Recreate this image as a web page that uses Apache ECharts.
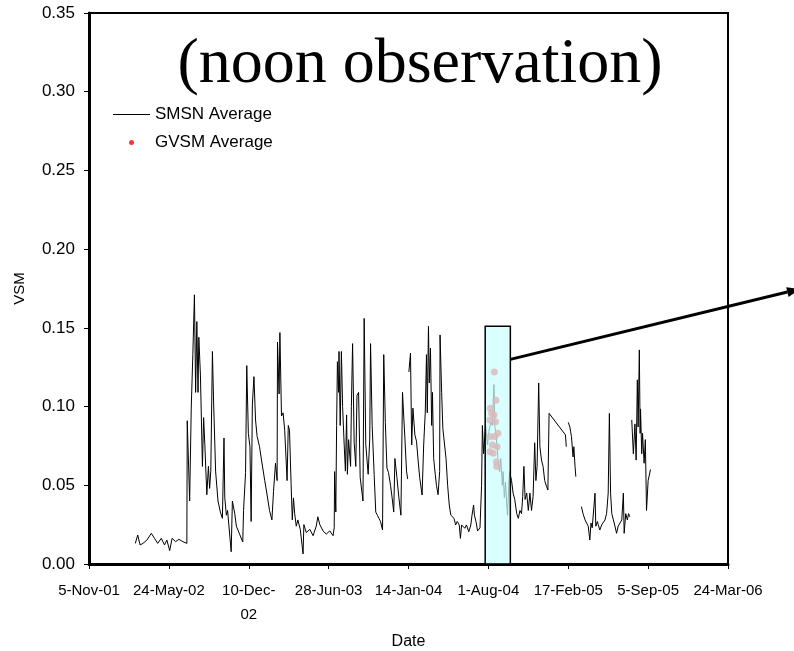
<!DOCTYPE html>
<html>
<head>
<meta charset="utf-8">
<script src="https://cdn.jsdelivr.net/npm/echarts@6/dist/echarts.min.js"></script>
<style>
  html, body { margin: 0; padding: 0; background: #fff; }
  #chart { width: 794px; height: 651px; }
</style>
</head>
<body>
<div id="chart"></div>
<script>
// x values are days since 5-Nov-01 (first tick); null = gap in the record
var smsnDays = [
  116, 122, 128, 135, 145, 156, 164, 172, 181, 189, 195, 202, 208, 217, 225, 235, 245,
  246, 252, 256, 260, 264, 267, 270, 273, 275, 279, 284, 287, 290, 295, 299, 302, 305,
  309, 312, 317, 323, 329, 334, 338, 340, 344, 347, 356, 359, 365, 369, 377, 385, 387,
  392, 395, 399, 403, 406, 409, 413, 417, 421, 427, 432, 440, 444, 452, 458, 462, 467,
  471, 472, 476, 478, 482, 486, 490, 496, 499, 502, 506, 509, 512, 515, 519, 523, 529,
  536, 538, 544, 553, 561, 569, 573, 578, 586, 594, 603, 611, 614,
  615, 618, 620, 622, 625, 626, 629, 632, 635, 639, 642, 645, 647, 650, 655, 657, 660,
  664, 668, 671, 675, 679, 682, 686, 689, 693, 699, 703, 705, 709, 714, 718, 722, 726,
  730, 735, 738, 742, 746, 750, 755, 759, 763, 766, 771, 776, 781, 785, 788, 791, 795,
  798, 800,
  801, 805, 808, 811, 816, 820, 824, 828, 834, 838, 842, 845, 847, 850, 852, 855, 858,
  860, 863, 867, 870, 874, 878, 879, 883, 886, 891, 894, 898, 902, 906, 910, 914, 918,
  922, 927, 930, 933, 937, 941, 945, 951, 956, 959, 963, 965, 969, 973, 979, 983, 985,
  988, 993, 998, 1001, 1006, 1010, 1014, 1016, 1020, 1024, 1028, 1031, 1035, 1037, 1040,
  1043, 1046, 1048, 1051, 1053, 1058, 1062, 1066, 1071, 1075, 1079, 1083, 1086, 1089,
  1092, 1096, 1100, 1104, 1108, 1112, 1116, 1119, 1122, 1126, 1129, 1133, 1137, 1141,
  1146, 1149, 1152, 1193, 1195, 1196,
  1200, 1204, 1206, 1208, 1212, 1214, 1217, 1219, 1222,
  1233, 1237, 1242, 1246, 1250, 1254, 1257, 1260, 1263, 1267, 1269, 1273, 1275, 1279,
  1284, 1288, 1292, 1296, 1300, 1303, 1306, 1309, 1313, 1317, 1321, 1325, 1329, 1334,
  1338, 1340, 1344, 1348, 1351, 1354, 1356,
  1359, 1363, 1367, 1370, 1373, 1375, 1378, 1380, 1381, 1384, 1386, 1390, 1393, 1396,
  1400, 1403, 1406
];
var smsnValues = [
  0.0131, 0.0184, 0.0121, 0.0131, 0.0152, 0.0195, 0.0163, 0.0131, 0.0163, 0.0121, 0.0152, 0.0085, 0.0163, 0.0142, 0.0157, 0.0142, 0.0131,
  0.091, 0.040, 0.099, 0.133, 0.171, 0.109, 0.154, 0.109, 0.144, 0.120, 0.062, 0.093, 0.076, 0.044, 0.062, 0.048, 0.059,
  0.135, 0.103, 0.059, 0.040, 0.033, 0.029, 0.080, 0.042, 0.031, 0.034, 0.0078, 0.040, 0.032, 0.024, 0.019, 0.014, 0.034,
  0.058, 0.126, 0.083, 0.0745, 0.027, 0.101, 0.119, 0.0915, 0.081, 0.0745, 0.066, 0.053, 0.047, 0.034, 0.028, 0.046, 0.064,
  0.053, 0.141, 0.108, 0.147, 0.094, 0.096, 0.085, 0.053, 0.088, 0.085, 0.051, 0.028, 0.042, 0.032, 0.024, 0.028, 0.022,
  0.0064, 0.025, 0.020, 0.022, 0.018, 0.024, 0.030, 0.025, 0.021, 0.019, 0.021, 0.018, 0.023,
  0.0587, 0.033, 0.088, 0.1285, 0.109, 0.135, 0.088, 0.135, 0.100, 0.0756, 0.059, 0.0947, 0.057, 0.079, 0.062, 0.100, 0.140,
  0.077, 0.062, 0.107, 0.109, 0.055, 0.054, 0.040, 0.156, 0.076, 0.057, 0.080, 0.140, 0.088, 0.057, 0.033, 0.031, 0.029,
  0.027, 0.0216, 0.133, 0.090, 0.061, 0.058, 0.050, 0.042, 0.033, 0.067, 0.055, 0.042, 0.031, 0.109, 0.094, 0.080, 0.059,
  0.054, null,
  0.122, 0.134, 0.0756, 0.099, 0.082, 0.078, 0.066, 0.055, 0.0438, 0.0756, 0.0965, 0.133, 0.096, 0.151, 0.115, 0.137, 0.088,
  0.109, 0.067, 0.057, 0.050, 0.044, 0.0587, 0.1455, 0.109, 0.086, 0.086, 0.067, 0.050, 0.0375, 0.031, 0.031, 0.029, 0.0248,
  0.027, 0.0248, 0.0163, 0.0248, 0.026, 0.0227, 0.0248, 0.0205, 0.0248, 0.031, 0.0375, 0.031, 0.027, 0.021, 0.023, 0.050, 0.088,
  0.070, 0.088, 0.0756, 0.084, 0.090, 0.088, 0.114, 0.088, 0.080, 0.067, 0.0587, 0.067, 0.050, 0.0587, 0.042,
  0.052, 0.0375, 0.031, 0.050, 0.0587, 0.053, 0.045, 0.041, 0.032, 0.029, 0.034, 0.032, 0.043, 0.062,
  0.041, 0.045, 0.034, 0.045, 0.034, 0.043, 0.077, 0.053, 0.062, 0.115, 0.0745, 0.066, 0.062, 0.053,
  0.049, 0.047, 0.0957, 0.082, 0.0745, null,
  0.090, 0.087, 0.084, 0.081, 0.068, 0.0745, 0.062, 0.0555, null,
  0.0364, 0.032, 0.028, 0.026, 0.024, 0.0152, 0.026, 0.023, 0.024, 0.045, 0.024, 0.027, 0.025, 0.0216,
  0.025, 0.024, 0.028, 0.032, 0.045, 0.0957, 0.045, 0.032, 0.028, 0.024, 0.0195, 0.024, 0.023, 0.028,
  0.045, 0.0195, 0.032, 0.028, 0.032, 0.030, null,
  0.0915, 0.070, 0.089, 0.066, 0.117, 0.087, 0.136, 0.083, 0.0985, 0.070, 0.083, 0.064, 0.079, 0.034,
  0.053, 0.054, 0.060
];

var gvsmDays = [1015, 1019, 1005, 1008, 1014, 1004, 1018, 1005, 1024, 1016, 1010, 1022, 1004, 1012, 1020, 1021];
var gvsmValues = [0.122, 0.104, 0.099, 0.0957, 0.0947, 0.0915, 0.0904, 0.081, 0.083, 0.081, 0.0756, 0.0745, 0.0713, 0.0703, 0.065, 0.062];

var xTickLabels = ['5-Nov-01', '24-May-02', '10-Dec-\n02', '28-Jun-03', '14-Jan-04', '1-Aug-04', '17-Feb-05', '5-Sep-05', '24-Mar-06'];

// highlighted window (days) and its top (VSM)
var highlightStart = 992;
var highlightEnd = 1055;
var highlightTop = 0.151;

var smsnData = smsnDays.map(function (d, i) { return [d, smsnValues[i]]; });
var gvsmData = gvsmDays.map(function (d, i) { return [d, gvsmValues[i]]; });

var chart = echarts.init(document.getElementById('chart'));

var option = {
  animation: false,
  backgroundColor: '#fff',
  title: {
    text: '(noon observation)',
    left: 415,
    textAlign: 'center',
    top: 28,
    textStyle: {
      fontFamily: 'Liberation Serif',
      fontWeight: 'normal',
      fontSize: 64,
      color: '#000'
    }
  },
  legend: {
    orient: 'vertical',
    left: 108,
    top: 101,
    itemWidth: 37,
    itemHeight: 5,
    itemGap: 11,
    data: [
      { name: 'SMSN Average', icon: 'path://M0,0H37V1H0Z' },
      { name: 'GVSM Average', icon: 'circle' }
    ],
    textStyle: { fontFamily: 'Liberation Sans', fontSize: 17, color: '#000' }
  },
  grid: {
    left: 89,
    right: 66,
    top: 13,
    bottom: 87,
    outerBoundsMode: 'none',
    show: true,
    borderColor: '#000',
    borderWidth: 2,
    backgroundColor: '#fff'
  },
  xAxis: {
    type: 'value',
    min: 0,
    max: 1600,
    interval: 200,
    name: 'Date',
    nameLocation: 'middle',
    nameGap: 70,
    nameTextStyle: { fontFamily: 'Liberation Sans', fontSize: 16, color: '#000' },
    splitLine: { show: false },
    axisLine: { lineStyle: { color: '#000', width: 3 } },
    axisTick: { length: 5, lineStyle: { color: '#000', width: 1 } },
    axisLabel: {
      margin: 15,
      fontFamily: 'Liberation Sans',
      fontSize: 15,
      color: '#000',
      lineHeight: 24,
      formatter: function (v) { return xTickLabels[Math.round(v / 200)]; }
    }
  },
  yAxis: {
    type: 'value',
    min: 0,
    max: 0.35,
    interval: 0.05,
    name: 'VSM',
    nameLocation: 'middle',
    nameGap: 62,
    nameTextStyle: { fontFamily: 'Liberation Sans', fontSize: 15, color: '#000' },
    splitLine: { show: false },
    axisLine: { show: true, lineStyle: { color: '#000', width: 3 } },
    axisTick: { show: true, length: 5, lineStyle: { color: '#000', width: 1 } },
    axisLabel: {
      margin: 14,
      fontFamily: 'Liberation Sans',
      fontSize: 17,
      color: '#000',
      formatter: function (v) { return v.toFixed(2); }
    }
  },
  series: [
    {
      name: 'SMSN Average',
      type: 'line',
      data: smsnData,
      symbol: 'none',
      color: '#000',
      lineStyle: { color: '#000', width: 1 },
      z: 2
    },
    {
      name: 'GVSM Average',
      type: 'scatter',
      data: gvsmData,
      symbol: 'circle',
      symbolSize: 7,
      itemStyle: { color: '#ff0000' },
      z: 3
    },
    {
      name: 'window',
      type: 'custom',
      data: [[highlightStart, highlightEnd, highlightTop]],
      encode: { x: [0, 1], y: 2 },
      z: 5,
      renderItem: function (params, api) {
        var p0 = api.coord([api.value(0), api.value(2)]);
        var p1 = api.coord([api.value(1), 0]);
        return {
          type: 'rect',
          shape: { x: p0[0], y: p0[1], width: p1[0] - p0[0], height: p1[1] - p0[1] },
          style: { fill: 'rgba(204,255,255,0.72)', stroke: '#000', lineWidth: 1.5 }
        };
      }
    }
  ]
};

chart.setOption(option);

// arrow leading out of the highlighted window
var start = chart.convertToPixel({ gridIndex: 0 }, [highlightEnd, 0.130]);
var tip = [800, 289];
var dx = tip[0] - start[0], dy = tip[1] - start[1];
var len = Math.sqrt(dx * dx + dy * dy);
var ux = dx / len, uy = dy / len;
var headLen = 13, headW = 5;
var bx = tip[0] - ux * headLen, by = tip[1] - uy * headLen;
chart.setOption({
  graphic: [
    {
      type: 'line',
      z: 100,
      shape: { x1: start[0], y1: start[1], x2: bx, y2: by },
      style: { stroke: '#000', lineWidth: 3 }
    },
    {
      type: 'polygon',
      z: 100,
      shape: {
        points: [
          tip,
          [bx - uy * headW, by + ux * headW],
          [bx + uy * headW, by - ux * headW]
        ]
      },
      style: { fill: '#000' }
    }
  ]
});
</script>
</body>
</html>
